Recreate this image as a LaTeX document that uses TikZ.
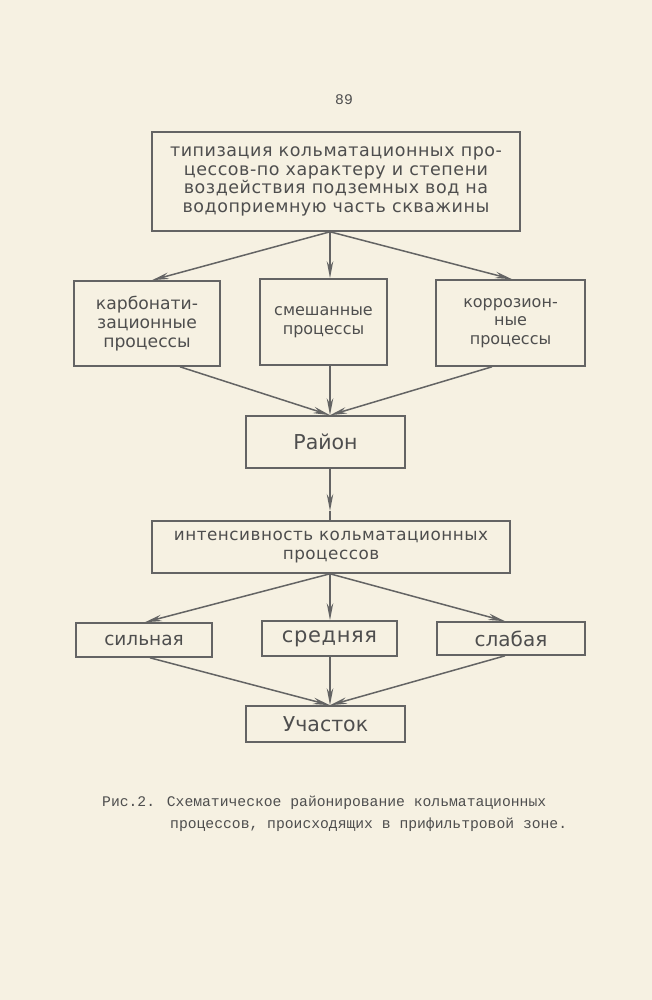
\documentclass[tikz,border=0pt]{standalone}
\usepackage{fontspec}
\setmainfont{DejaVu Sans}
\newfontfamily\capfont{Liberation Mono}
\newfontfamily\wide[LetterSpace=3]{DejaVu Sans}
\usetikzlibrary{arrows.meta}
\definecolor{paper}{RGB}{246,241,226}
\definecolor{ink}{RGB}{100,100,100}
\definecolor{txt}{RGB}{78,78,78}
\tikzset{
  box/.style={draw=ink, line width=1.6pt, text=txt, align=center, inner sep=0pt,
              font=\fontsize{16}{18.5}\selectfont},
  plain/.style={draw=ink, line width=1.5pt},
  arr/.style={plain, -{Stealth[length=17pt,width=6.5pt]}},
  captext/.style={text=txt, font=\capfont\fontsize{14.7}{17}\selectfont, inner sep=0pt, anchor=base west}
}
\begin{document}
\begin{tikzpicture}[x=1pt,y=-1pt]
\fill[paper] (0,0) rectangle (652,1000);
\useasboundingbox (0,0) rectangle (652,1000);
\node[text=txt, font=\capfont\fontsize{14.7}{17}\selectfont] (pg) at (344,100) {89};
\node[box, minimum width=368pt, minimum height=99pt, font=\wide\fontsize{17.5}{18.8}\selectfont] (top) at (336,181.5)
  {типизация кольматационных про-\\цессов-по характеру и степени\\воздействия подземных вод на\\водоприемную часть скважины};
\node[box, minimum width=146pt, minimum height=85pt, font=\fontsize{17.2}{19}\selectfont] (b1) at (147,323.5) {карбонати-\\зационные\\процессы};
\node[box, minimum width=127pt, minimum height=86pt] (b2) at (323.5,322) {смешанные\\процессы};
\node[box, minimum width=149pt, minimum height=86pt] (b3) at (510.5,323) {коррозион-\\ные\\процессы};
\node[box, minimum width=159pt, minimum height=52pt, font=\fontsize{20.5}{22}\selectfont] (r) at (325.5,442) {Район};
\node[box, minimum width=358pt, minimum height=52pt, font=\wide\fontsize{16.8}{19}\selectfont] (i) at (331,547) {интенсивность кольматационных\\процессов};
\node[box, minimum width=136pt, minimum height=34pt, font=\fontsize{18.5}{20}\selectfont] (c1) at (144,640) {сильная};
\node[box, minimum width=135pt, minimum height=35pt, font=\wide\fontsize{21}{22}\selectfont] (c2) at (329.5,638.5) {средняя};
\node[box, minimum width=148pt, minimum height=33pt, font=\fontsize{20}{22}\selectfont] (c3) at (511,638.5) {слабая};
\node[box, minimum width=159pt, minimum height=36pt, font=\fontsize{20.5}{22}\selectfont] (u) at (325.5,724) {Участок};
% junction points
\coordinate (t0) at (top.south -| 330,0);
\coordinate (b1o) at (b1.south -| 180,0);
\coordinate (b2o) at (b2.south -| 330,0);
\coordinate (b3o) at (b3.south -| 492,0);
\coordinate (rin) at (r.north -| 330,0);
\coordinate (rout) at (r.south -| 330,0);
\coordinate (rmid) at (330,511);
\coordinate (iin) at (i.north -| 330,0);
\coordinate (iout) at (i.south -| 330,0);
\coordinate (c1o) at (c1.south -| 150,0);
\coordinate (c2o) at (c2.south -| 330,0);
\coordinate (c3o) at (c3.south -| 505,0);
\coordinate (uin) at (u.north -| 330,0);
\draw[arr] (t0) -- (b1.north -| 152,0);
\draw[arr] (t0) -- (b2.north -| 330,0);
\draw[arr] (t0) -- (b3.north -| 512,0);
\draw[arr] (b1o) -- (rin);
\draw[arr] (b2o) -- (rin);
\draw[arr] (b3o) -- (rin);
\draw[arr] (rout) -- (rmid);
\draw[plain] (rmid) -- (iin);
\draw[arr] (iout) -- (c1.north -| 145,0);
\draw[arr] (iout) -- (c2.north -| 330,0);
\draw[arr] (iout) -- (c3.north -| 505,0);
\draw[arr] (c1o) -- (uin);
\draw[arr] (c2o) -- (uin);
\draw[arr] (c3o) -- (uin);
\node[captext] (cap1) at (102,806) {Рис.2. Схематическое районирование кольматационных};
\node[captext] (cap2) at (170,828) {процессов, происходящих в прифильтровой зоне.};
\end{tikzpicture}
\end{document}
